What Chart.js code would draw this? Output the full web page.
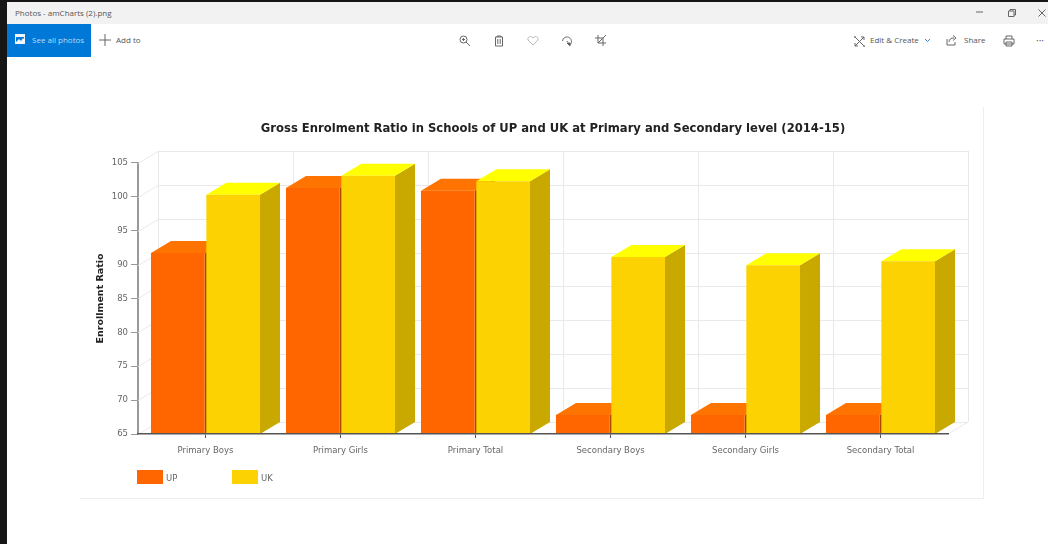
<!DOCTYPE html>
<html lang="en">
<head>
  <meta charset="UTF-8" />
  <title>Photos - amCharts (2).png</title>
  <script src="https://cdn.jsdelivr.net/npm/chart.js"></script>
  <style>
    html, body { margin: 0; height: 100%; background: #fff; overflow: hidden; }
    body { position: relative; width: 1048px; height: 544px; font-family: "Open Sans", sans-serif; color: #555; filter: blur(0.35px); }
    .abs { position: absolute; }
    #edgeTop { left: 0; top: 0; width: 1048px; height: 2px; background: #161616; }
    #edgeLeft { left: 0; top: 0; width: 7px; height: 544px; background: #161616; }
    #titlebar { left: 7px; top: 2px; width: 1041px; height: 22px; background: #f2f2f2; }
    #allPhotos { left: 7px; top: 24px; width: 84px; height: 33px; background: #0078d7; }
    .txt { position: absolute; font-size: 8px; line-height: 12px; white-space: nowrap; }
    svg.abs { fill: none; stroke: #666; stroke-width: 1; }
    #panelRight { left: 983px; top: 107px; width: 1px; height: 391px; background: #eee; }
    #panelBottom { left: 80px; top: 498px; width: 904px; height: 1px; background: #eee; }
    #chartCanvas { position: absolute; left: 80px; top: 107px; }
    .swatch { position: absolute; top: 470px; width: 26px; height: 14px; }
    .legendText { position: absolute; top: 472px; font: 8.5px "DejaVu Sans", sans-serif; color: #666; line-height: 12px; }
  </style>
</head>
<body>
  <!-- ventana de Photos -->
  <div class="abs" id="edgeTop"></div>
  <div class="abs" id="titlebar"></div>
  <div class="abs" id="edgeLeft"></div>
  <div class="abs" id="allPhotos"></div>
  <div class="txt" style="left:15px;top:7px">Photos - amCharts (2).png</div>
  <svg class="abs" style="left:15px;top:34px;stroke:none" width="11" height="11"><rect width="10" height="10" fill="#eef5fb"/><path d="M1 8 L4 5 L6 7 L8 4 L9 5 V3 H1z" fill="#0078d7"/></svg>
  <div class="txt" style="left:32px;top:34px;color:#bcdcf5">See all photos</div>
  <svg class="abs" style="left:99px;top:34px" width="12" height="12"><path d="M6 0 V12 M0 6 H12"/></svg>
  <div class="txt" style="left:116px;top:34px">Add to</div>

  <svg class="abs" style="left:459px;top:35px" width="12" height="12"><circle cx="4.5" cy="4.5" r="3.5"/><path d="M7 7 L11 11 M3 4.5 H6 M4.5 3 V6"/></svg>
  <svg class="abs" style="left:494px;top:35px" width="10" height="12"><path d="M1.5 2 H8.5 V11 H1.5z M3 2 V1 H7 V2 M3.8 4 V9 M6.2 4 V9"/></svg>
  <svg class="abs" style="left:527px;top:35px;stroke:#bbb" width="12" height="11"><path d="M6 10 L1 5 C0 2 4 0 6 3 C8 0 12 2 11 5z"/></svg>
  <svg class="abs" style="left:561px;top:35px" width="12" height="12"><path d="M1.5 6 A4.5 4.5 0 1 1 8 10.5 M6 7 L6.5 6"/><path d="M6 8 L9 11 L9 8z" fill="#555"/></svg>
  <svg class="abs" style="left:595px;top:35px" width="11" height="11"><path d="M3 0 V8 H11 M0 3 H8 V11 M8 3 L11 0 M3 8 L8 3"/></svg>

  <svg class="abs" style="left:854px;top:36px" width="11" height="11"><path d="M1 1 L10 10 M10 1 L1 10 M2 0 H0 V2 M9 11 H11 V9 M7 1 H10 V4 M1 7 V10 H4"/></svg>
  <div class="txt" style="left:870px;top:34px">Edit &amp; Create</div>
  <svg class="abs" style="left:924px;top:38px;stroke:#2b88d8" width="7" height="5"><path d="M1 1 L3.5 3.5 L6 1"/></svg>
  <svg class="abs" style="left:946px;top:35px" width="12" height="11"><path d="M1 4 V10 H9 V7 M3 7 C3 4 5 3 8 3 M7 0.5 L10 3 L7 5.5"/></svg>
  <div class="txt" style="left:964px;top:34px">Share</div>
  <svg class="abs" style="left:1003px;top:35px" width="12" height="12"><path d="M3 4 V1 H9 V4 M1 4 H11 V9 H1z M3 7 H9 V11 H3z"/></svg>
  <div class="txt" style="left:1036px;top:34px;font-size:10px">···</div>

  <svg class="abs" style="left:976px;top:9px" width="7" height="5"><path d="M0 3 H7"/></svg>
  <svg class="abs" style="left:1008px;top:9px" width="8" height="8"><path d="M0.5 2 H6 V7.5 H0.5z M2 2 V0.5 H7.5 V6 H6"/></svg>
  <svg class="abs" style="left:1038px;top:9px" width="8" height="8"><path d="M0.5 0.5 L7.5 7.5 M7.5 0.5 L0.5 7.5"/></svg>

  <!-- grafica -->
  <div class="abs" id="panelRight"></div>
  <div class="abs" id="panelBottom"></div>
  <canvas id="chartCanvas" width="946" height="391"></canvas>
  <div id="legend"></div>

<script>
const categories = ['Primary Boys', 'Primary Girls', 'Primary Total', 'Secondary Boys', 'Secondary Girls', 'Secondary Total'];
const seriesNames = ['UP', 'UK'];
const upValues = [91.7, 101.3, 100.9, 67.8, 67.8, 67.8];
const ukValues = [100.3, 103.1, 102.3, 91.1, 89.9, 90.5];
const yMin = 65, yMax = 105, yStep = 5;

const chartTitle = 'Gross Enrolment Ratio in Schools of UP and UK at Primary and Secondary level (2014-15)';
const yTitle = 'Enrollment Ratio';

// colores front / top / side
const frontColors = ['#ff6600', '#fcd202'];
const topColors = ['#ff7300', '#ffff00'];
const sideColors = ['#a84900', '#c9a800'];

// profundidad del efecto 3d
const depthX = 20, depthY = 12;
const wallColor = '#e9e9e9';

const fontName = '"DejaVu Sans", sans-serif';

function poly(ctx, pts, fill) {
  ctx.beginPath();
  pts.forEach(([x, y], i) => i ? ctx.lineTo(x, y) : ctx.moveTo(x, y));
  ctx.closePath();
  ctx.fillStyle = fill;
  ctx.fill();
}

// paredes de atras, grid y caras de las barras
const fake3d = {
  id: 'fake3d',
  afterLayout(chart) {
    // el titulo va centrado sobre el suelo completo, no sobre el plano frontal
    chart.titleBlock.right += depthX;
  },
  beforeDatasetsDraw(chart) {
    const { ctx, scales: { x, y } } = chart;
    const top = y.getPixelForValue(yMax), bottom = y.getPixelForValue(yMin);
    ctx.save();
    ctx.strokeStyle = wallColor;
    ctx.lineWidth = 1;
    ctx.beginPath();
    y.ticks.forEach(t => {
      const py = Math.round(y.getPixelForValue(t.value)) + 0.5;
      ctx.moveTo(x.left, py);
      ctx.lineTo(x.left + depthX, py - depthY);
      ctx.lineTo(x.right + depthX, py - depthY);
    });
    const step = x.width / categories.length;
    for (let i = 0; i <= categories.length; i++) {
      const px = Math.round(x.left + i * step + depthX) + 0.5;
      ctx.moveTo(px, top - depthY);
      ctx.lineTo(px, bottom - depthY);
    }
    ctx.moveTo(x.right, bottom);
    ctx.lineTo(x.right + depthX, bottom - depthY);
    ctx.stroke();
    ctx.restore();

    // caras de arriba y de lado antes de los frentes, asi UK tapa lo de UP
    chart.data.datasets.forEach((ds, i) => {
      chart.getDatasetMeta(i).data.forEach(bar => {
        const x1 = bar.x - bar.width / 2, x2 = bar.x + bar.width / 2;
        poly(ctx, [[x2, bar.y], [x2 + depthX, bar.y - depthY], [x2 + depthX, bottom - depthY], [x2, bottom]], sideColors[i]);
        poly(ctx, [[x1, bar.y], [x2, bar.y], [x2 + depthX, bar.y - depthY], [x1 + depthX, bar.y - depthY]], topColors[i]);
      });
    });
  }
};

new Chart(document.getElementById('chartCanvas'), {
  type: 'bar',
  data: {
    labels: categories,
    datasets: [
      { label: seriesNames[0], data: upValues, backgroundColor: frontColors[0] },
      { label: seriesNames[1], data: ukValues, backgroundColor: frontColors[1] }
    ]
  },
  options: {
    responsive: false,
    animation: false,
    categoryPercentage: 0.82,
    barPercentage: 0.97,
    layout: { padding: { left: 0, right: 78, top: 0, bottom: 0 } },
    plugins: {
      legend: { display: false },
      tooltip: { enabled: false },
      title: {
        display: true, text: chartTitle, fullSize: false, color: '#222',
        font: { family: fontName, size: 11.6, weight: 'bold', lineHeight: 1.2 },
        padding: { top: 15, bottom: 27 }
      }
    },
    scales: {
      x: {
        afterFit: s => { s.height = 64; },
        grid: { offset: false, drawOnChartArea: false, tickLength: 4, color: '#555' },
        border: { color: '#555', width: 1.5, z: 1 },
        ticks: { autoSkip: false, maxRotation: 0, padding: 8, color: '#666', font: { family: fontName, size: 8.5 } }
      },
      y: {
        min: yMin, max: yMax,
        afterFit: s => { s.width = 58; },
        grid: { drawOnChartArea: false, tickLength: 7, color: '#999' },
        border: { color: '#999', width: 2 },
        ticks: { stepSize: yStep, padding: 3, color: '#666', font: { family: fontName, size: 8.5 } },
        title: { display: true, text: yTitle, color: '#222', padding: { top: 15, bottom: 0 }, font: { family: fontName, size: 9.5, weight: 'bold' } }
      }
    }
  },
  plugins: [fake3d]
});

// leyenda
const legendX = [137, 232];
const legendBox = document.getElementById('legend');
seriesNames.forEach((name, i) => {
  legendBox.insertAdjacentHTML('beforeend',
    `<div class="swatch" style="left:${legendX[i]}px;background:${frontColors[i]}"></div>` +
    `<div class="legendText" style="left:${legendX[i] + 29}px">${name}</div>`);
});
</script>
</body>
</html>
